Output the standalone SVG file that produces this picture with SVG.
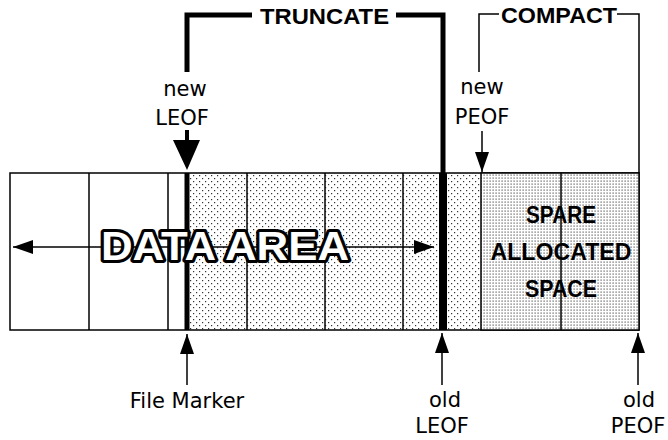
<svg xmlns="http://www.w3.org/2000/svg" width="668" height="440" viewBox="0 0 668 440">
<defs>
<pattern id="dotsLight" width="6" height="6" patternUnits="userSpaceOnUse">
<rect width="6" height="6" fill="#ffffff"/>
<rect x="1" y="1" width="1.2" height="1.2" fill="#333"/>
<rect x="4" y="4" width="1.2" height="1.2" fill="#333"/>
</pattern>
<pattern id="dotsDense" width="3" height="3" patternUnits="userSpaceOnUse">
<rect width="3" height="3" fill="#ffffff"/>
<rect x="0.5" y="0.5" width="1.2" height="1.2" fill="#555"/>
</pattern>
<marker id="arrow" viewBox="0 0 20 14" refX="20" refY="7" markerWidth="20" markerHeight="14" markerUnits="userSpaceOnUse" orient="auto-start-reverse">
<path d="M0,0 L20,7 L0,14 z" fill="#000"/>
</marker>
<style>
.lbl{font-family:"DejaVu Sans","Liberation Sans",sans-serif;font-size:21px;fill:#000;text-anchor:middle}
.hdr{font-family:"Liberation Sans","DejaVu Sans",sans-serif;font-size:22px;font-weight:bold;fill:#000}
.grid{stroke:#000;stroke-width:1.5;fill:none}
.thin{stroke:#000;stroke-width:1.5;fill:none}
.thick{stroke:#000;stroke-width:5;fill:none}
.spare{font-family:"Liberation Sans","DejaVu Sans",sans-serif;font-size:23px;font-weight:bold;fill:#000;text-anchor:middle}
.big{font-family:"Liberation Sans","DejaVu Sans",sans-serif;font-size:40px;font-weight:bold;fill:#fff;stroke:#000;stroke-width:6;stroke-linejoin:round;paint-order:stroke}
.bigin{font-family:"Liberation Sans","DejaVu Sans",sans-serif;font-size:40px;font-weight:bold;fill:#fff;stroke:#000;stroke-width:1;stroke-linejoin:round}
</style>
</defs>
<rect width="668" height="440" fill="#fff"/>

<g id="data-area">
<rect x="187" y="173" width="294" height="157" fill="url(#dotsLight)"/>
<rect x="10" y="173" width="629" height="157" class="grid"/>
<line x1="89" y1="173" x2="89" y2="330" class="grid"/>
<line x1="168" y1="173" x2="168" y2="330" class="grid"/>
<line x1="247" y1="173" x2="247" y2="330" class="grid"/>
<line x1="325" y1="173" x2="325" y2="330" class="grid"/>
<line x1="403" y1="173" x2="403" y2="330" class="grid"/>
<rect x="184.5" y="173" width="5" height="157" fill="#000"/>
<rect x="439" y="173" width="8" height="157" fill="#000"/>
</g>

<g id="spare-space">
<rect x="481" y="173" width="158" height="157" fill="url(#dotsDense)"/>
<rect x="481" y="173" width="158" height="157" class="grid"/>
<line x1="561" y1="173" x2="561" y2="330" class="grid"/>
<text class="spare" x="561" y="223" textLength="70" lengthAdjust="spacingAndGlyphs">SPARE</text>
<text class="spare" x="561" y="260" textLength="141" lengthAdjust="spacingAndGlyphs">ALLOCATED</text>
<text class="spare" x="561" y="297" textLength="72" lengthAdjust="spacingAndGlyphs">SPACE</text>
</g>

<g id="connectors">
<line x1="13" y1="247" x2="434" y2="247" class="thin" marker-start="url(#arrow)" marker-end="url(#arrow)"/>
<path d="M187,72 V15 H252 M396,15 H443 V173" class="thick"/>
<path d="M479,72 V14 H499 M617,14 H639 V173" class="thin"/>
<line x1="187" y1="130" x2="187" y2="142" stroke="#000" stroke-width="4"/>
<path d="M173,140 L200,140 L187,170 z" fill="#000"/>
<line x1="482" y1="131" x2="482" y2="172" class="thin" marker-end="url(#arrow)"/>
<line x1="187" y1="385" x2="187" y2="334" class="thin" marker-end="url(#arrow)"/>
<line x1="442" y1="385" x2="442" y2="333" class="thin" marker-end="url(#arrow)"/>
<line x1="638" y1="385" x2="638" y2="333" class="thin" marker-end="url(#arrow)"/>
</g>

<g id="data-label">
<text class="big" x="101" y="260" textLength="248" lengthAdjust="spacingAndGlyphs">DATA AREA</text>
</g>

<g id="truncate">
<text class="hdr" x="260" y="24" textLength="129" lengthAdjust="spacingAndGlyphs">TRUNCATE</text>
</g>
<g id="compact">
<text class="hdr" x="501" y="23" textLength="116" lengthAdjust="spacingAndGlyphs">COMPACT</text>
</g>

<g id="new-leof">
<text class="lbl" x="185" y="96">new</text>
<text class="lbl" x="182" y="125">LEOF</text>
</g>
<g id="new-peof">
<text class="lbl" x="482" y="94">new</text>
<text class="lbl" x="482" y="124">PEOF</text>
</g>
<g id="file-marker">
<text class="lbl" x="187" y="408">File Marker</text>
</g>
<g id="old-leof">
<text class="lbl" x="445" y="407">old</text>
<text class="lbl" x="442" y="433">LEOF</text>
</g>
<g id="old-peof">
<text class="lbl" x="639" y="407">old</text>
<text class="lbl" x="638" y="433">PEOF</text>
</g>
</svg>
